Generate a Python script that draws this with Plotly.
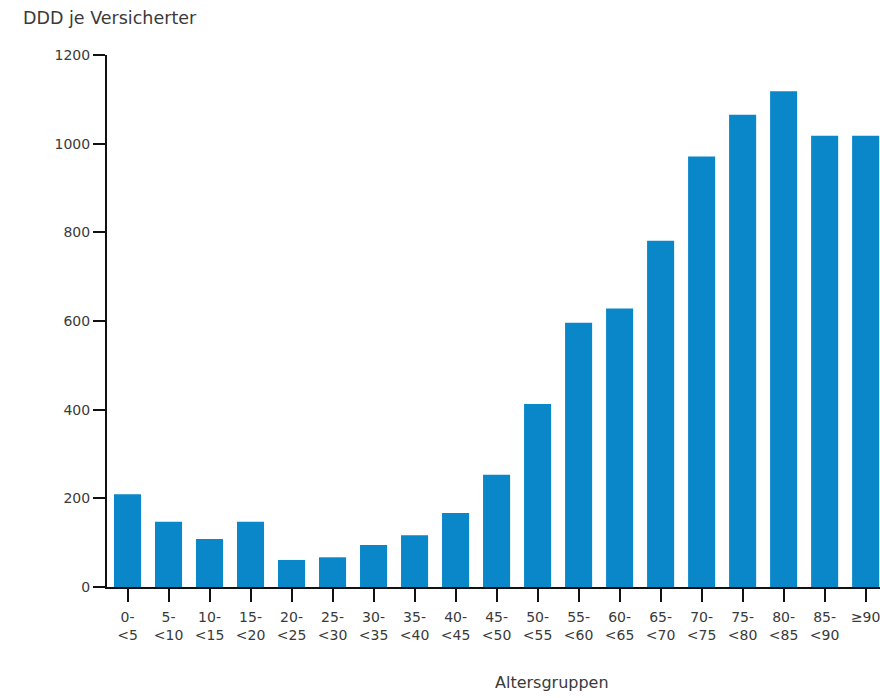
import plotly.graph_objects as go

categories = ["0-<br><5", "5-<br><10", "10-<br><15", "15-<br><20", "20-<br><25", "25-<br><30",
              "30-<br><35", "35-<br><40", "40-<br><45", "45-<br><50", "50-<br><55", "55-<br><60",
              "60-<br><65", "65-<br><70", "70-<br><75", "75-<br><80", "80-<br><85", "85-<br><90", "≥90"]
values = [209, 147, 108, 147, 61, 67, 95, 117, 167, 253, 413, 596, 628, 781, 971, 1065, 1118, 1018, 1018]
y_ticks = [0, 200, 400, 600, 800, 1000, 1200]

FONT = "DejaVu Sans"
TXT = "#3a3a3a"

fig = go.Figure(go.Bar(
    x=list(range(len(categories))), y=values,
    marker=dict(color="#0a87c9", line=dict(width=0)),
    width=0.66,
))

fig.update_layout(
    width=880, height=698,
    margin=dict(l=107, r=0, t=55, b=111, autoexpand=False),
    paper_bgcolor="white", plot_bgcolor="white",
    showlegend=False,
    font=dict(family=FONT, color=TXT, size=14),
    title=dict(text="DDD je Versicherter", x=23/880, xanchor="left", xref="container",
               y=1 - 18/698, yanchor="middle", yref="container",
               font=dict(family=FONT, size=17.5, color=TXT)),
    xaxis=dict(
        range=[-0.5, 18.35],
        tickmode="array", tickvals=list(range(len(categories))), ticktext=categories,
        ticks="outside", ticklen=13, tickwidth=2, tickcolor="#111",
        showline=True, linewidth=2, linecolor="#111",
        showgrid=False, zeroline=False,
        ticklabelstandoff=3, ticklabeloverflow="allow",
        tickfont=dict(family=FONT, size=14, color=TXT),
    ),
    yaxis=dict(
        range=[0, 1200],
        tickmode="array", tickvals=y_ticks, ticktext=[str(v) for v in y_ticks],
        ticks="outside", ticklen=12, tickwidth=2, tickcolor="#111",
        showline=True, linewidth=2, linecolor="#111",
        showgrid=False, zeroline=False,
        tickfont=dict(family=FONT, size=14, color=TXT),
    ),
    annotations=[dict(text="Altersgruppen", xref="paper", yref="paper",
                      x=(551.5 - 107) / 773, y=(587 - 682) / 531.6,
                      xanchor="center", yanchor="middle", showarrow=False,
                      font=dict(family=FONT, size=16, color=TXT))],
)
fig.update_xaxes(tickson="boundaries")

fig.write_html("out.html", config={"displayModeBar": False},
               post_script="document.body.style.margin='0';document.body.style.padding='0';")
